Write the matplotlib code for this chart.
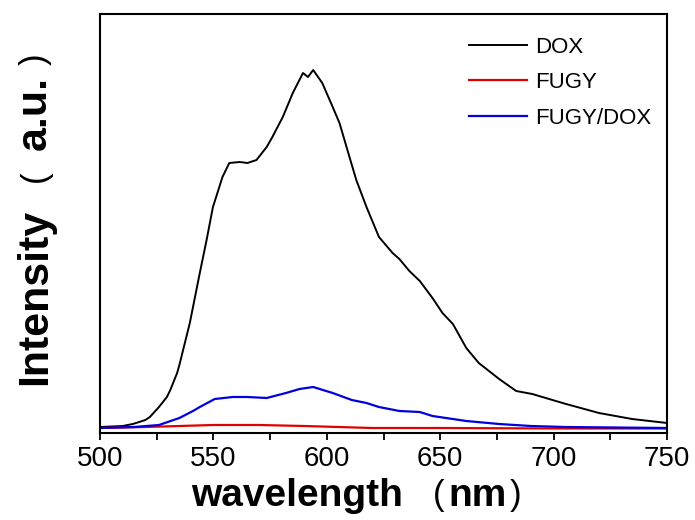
import matplotlib
matplotlib.use("Agg")
import matplotlib.pyplot as plt

plt.rcParams['font.family'] = ['Liberation Sans', 'DejaVu Sans']

# (a.u.)
dox_wl = [500, 510, 514.5, 520, 522, 526, 529.5, 531, 534, 535, 539.6, 544, 547,
          549.8, 554, 557, 561.6, 565, 569, 573.5, 576, 580.6, 585, 589.5, 591.7,
          594, 598, 602.6, 605.6, 610, 613, 617.5, 623, 629, 632, 636.4, 641,
          646.6, 651, 655.6, 661.5, 667, 676, 683.5, 690.6, 698, 705.5, 720,
          734.6, 750]
dox_int = [6, 7, 9, 13, 16, 26, 36, 43, 60, 68, 110, 160, 193,
           226, 256, 270, 271, 270, 273, 286, 296, 316, 340, 360, 356,
           363, 350, 326, 310, 276, 253, 226, 196, 180, 174, 162, 152,
           135, 120, 109, 85, 70, 54, 42, 39, 34, 29, 20,
           14, 10]

fugy_wl = [500, 520, 535, 550, 570, 590, 605, 620, 650, 700, 750]
fugy_int = [5, 6, 7, 8, 8, 7, 6, 5, 5, 4.5, 4.5]

fd_wl = [500, 515, 526, 535, 541, 544, 550.6, 558.5, 565, 573.5, 582, 588, 594,
         602.6, 611, 617.5, 623, 632, 641, 646.6, 661.5, 676, 690, 705, 750]
fd_int = [5, 6, 8, 15, 22, 26, 34, 36, 36, 35, 40, 44, 46,
          40, 33, 30, 26, 22, 21, 17, 12, 9, 7, 6, 5]

W, H = 695, 520
fig = plt.figure(figsize=(6.95, 5.2), dpi=100)
ax = fig.add_axes([100 / W, 87 / H, 567 / W, 419 / H])

ax.plot(dox_wl, dox_int, color='black', lw=1.4, label='DOX')
ax.plot(fugy_wl, fugy_int, color='#e00000', lw=1.6, label='FUGY')
ax.plot(fd_wl, fd_int, color='#0000e0', lw=1.6, label='FUGY/DOX')

ax.set_xlim(500, 750)
ax.set_ylim(0, 419)
ax.set_xticks([500, 550, 600, 650, 700, 750])
ax.set_xticks([525, 575, 625, 675, 725], minor=True)
ax.set_yticks([])
ax.tick_params(axis='x', which='both', direction='out', length=5, width=1.3,
               labelsize=20, pad=4)
for s in ax.spines.values():
    s.set_linewidth(1.5)


def px(x, y, s, **kw):
    # place text by pixel position from the top-left corner
    fig.text(x / W, (H - y) / H, s, rotation_mode='anchor', **kw)


word = dict(fontweight='bold', va='baseline', ha='left')
par = dict(fontsize=25, fontweight='normal', va='baseline', ha='center')

# x axis title: wavelength (nm), thin brackets as in the original
px(191, 506, 'wavelength', fontsize=28, **word)
px(439, 505, '(', **par)
px(448, 506, 'nm', fontsize=28, **word)
px(516, 505, ')', **par)

# y axis title: Intensity (a.u.)
px(46, 385, 'Intensity', fontsize=31, rotation=90, **word)
px(45, 176, '(', rotation=90, **par)
px(46, 150, 'a.u.', fontsize=31, rotation=90, **word)
px(45, 59, ')', rotation=90, **par)

ax.legend(loc='upper right', bbox_to_anchor=(0.989, 0.967), borderaxespad=0,
          frameon=False, fontsize=16, handlelength=2.6,
          labelspacing=0.65, handletextpad=0.4)

fig.savefig('out.png', dpi=100)
